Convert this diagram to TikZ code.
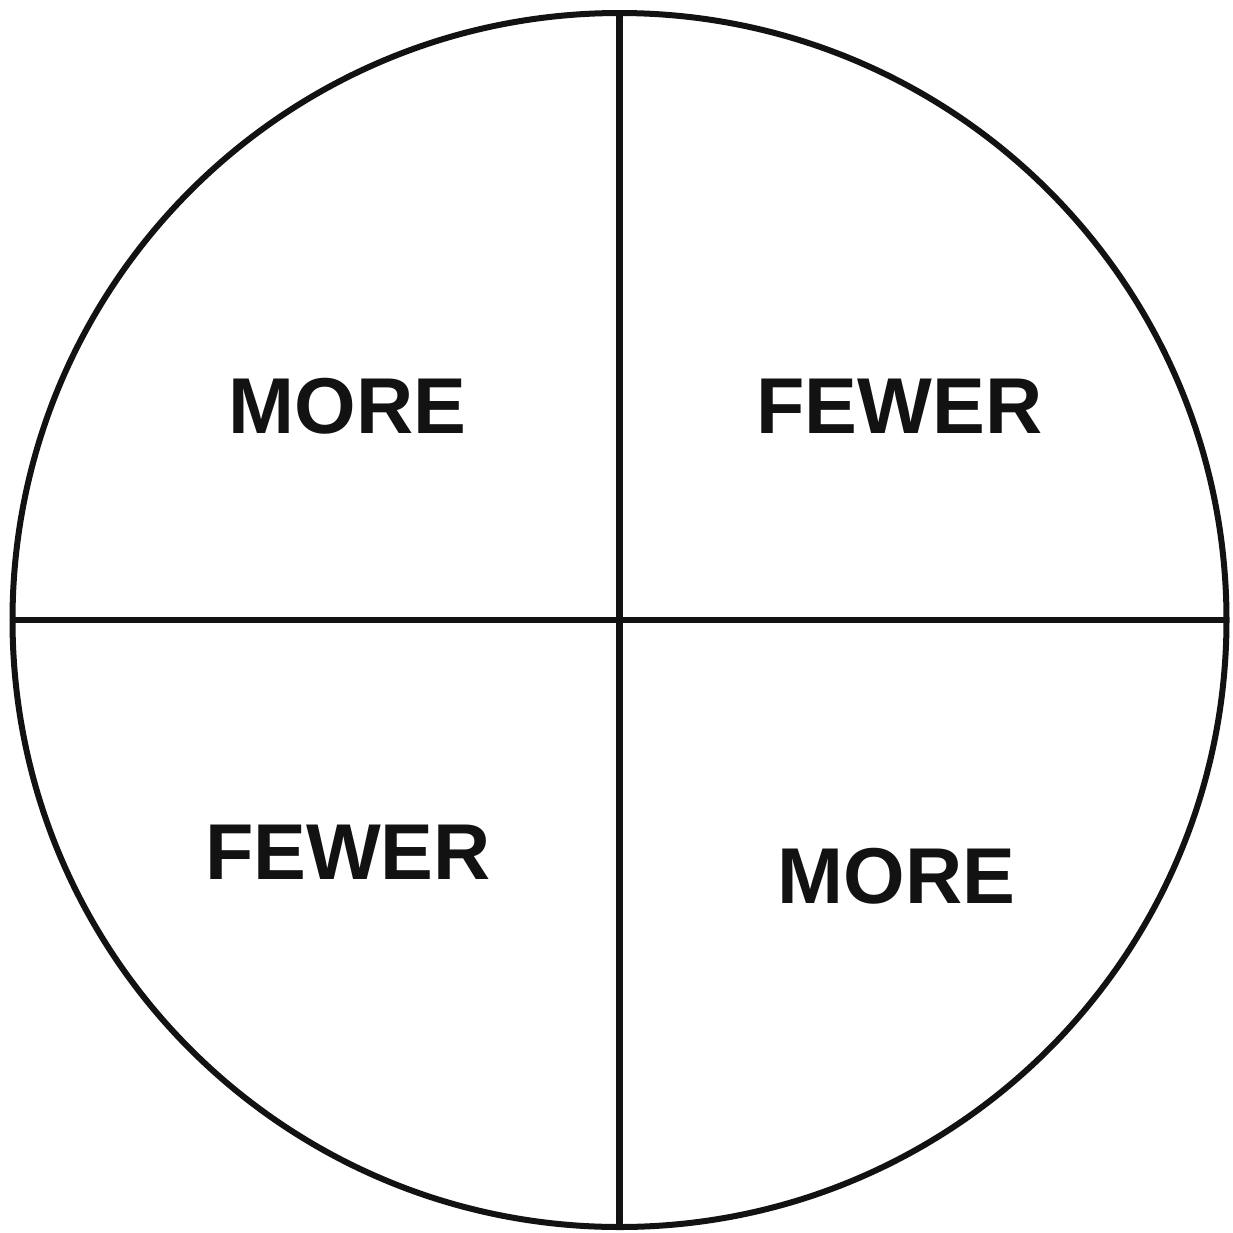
\documentclass[tikz,border=0pt]{standalone}
\usepackage{fontspec}
\setmainfont{Liberation Sans}
\begin{document}
\begin{tikzpicture}[x=0.5pt,y=-0.5pt,
  ring/.style={draw=black!93,line width=3pt,circle,minimum size=607pt,inner sep=0pt,outer sep=0pt},
  divider/.style={draw=black!93,line width=3.2pt},
  word/.style={inner sep=0pt,outer sep=0pt,font=\fontsize{39.6pt}{44pt}\selectfont\bfseries,text=black!93}]
\useasboundingbox[fill=white] (0,0) rectangle (1233,1233);
\node[ring] (c) at (619.5,620) {};
\draw[divider] (c.north) -- (c.south);
\draw[divider] (c.west) -- (c.east);
\node[word] (tl) at (347.5,406) {MORE};
\node[word] (tr) at (899.5,406) {FEWER};
\node[word] (bl) at (348,852) {FEWER};
\node[word] (br) at (896.5,876) {MORE};
\end{tikzpicture}
\end{document}
